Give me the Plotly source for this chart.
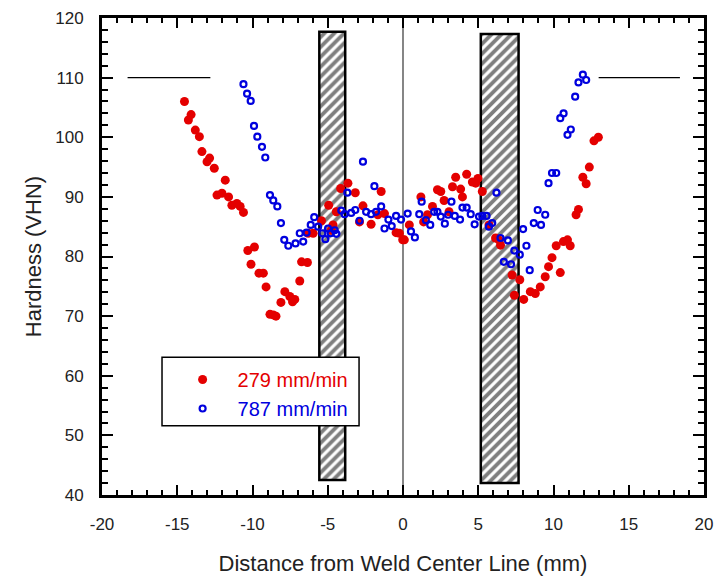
import plotly.graph_objects as go

# Hardness traverse across the friction stir weld, two travel speeds
red_x = [-14.52, -14.26, -14.08, -13.8, -13.53, -13.36, -13.02, -12.85, -12.54, -12.36,
         -12.03, -11.81, -11.59, -11.37, -11.04, -10.82, -10.6, -10.31, -10.1, -9.87,
         -9.57, -9.28, -9.1, -8.84, -8.62, -8.44, -8.11, -7.85, -7.52, -7.34,
         -7.19, -6.86, -6.74, -6.35, -6.3, -5.97, -5.42, -4.94, -4.76, -4.65,
         -4.43, -4.14, -3.66, -3.17, -2.89, -2.66, -2.12, -1.67, -1.45, -1.23,
         -0.46, -0.24, -0.02, 0.09, 0.42, 1.19, 1.37, 1.63, 1.96, 2.29,
         2.51, 2.73, 3.06, 3.29, 3.5, 3.83, 3.95, 4.23, 4.61, 4.83,
         4.98, 5.27, 5.71, 6.15, 6.37, 6.48, 7.25, 7.4, 7.76, 8.02,
         8.46, 8.79, 9.12, 9.45, 9.67, 9.9, 10.18, 10.45, 10.66, 10.93,
         11.11, 11.5, 11.66, 11.95, 12.17, 12.38, 12.69, 12.98]
red_y = [106.0, 102.9, 103.8, 101.2, 100.1, 97.6, 95.9, 96.5, 94.8, 90.3,
         90.6, 92.8, 90.0, 88.6, 88.9, 88.4, 87.4, 81.0, 78.7, 81.6,
         77.2, 77.2, 74.9, 70.3, 70.2, 70.0, 72.3, 74.1, 73.3, 72.4,
         72.8, 75.9, 79.1, 79.0, 83.9, 83.9, 86.0, 88.6, 84.4, 85.3,
         87.5, 91.4, 92.3, 90.7, 85.8, 88.5, 85.4, 87.0, 90.9, 87.2,
         84.0, 83.9, 82.8, 82.8, 85.3, 90.0, 85.8, 87.0, 88.4, 91.2,
         90.9, 89.4, 87.5, 91.7, 93.3, 91.3, 90.0, 93.8, 92.5, 92.3,
         93.1, 90.9, 85.3, 83.1, 82.8, 81.9, 76.9, 73.5, 76.1, 72.8,
         74.1, 73.8, 74.9, 76.6, 78.3, 79.8, 81.8, 77.3, 82.5, 82.8,
         81.8, 87.0, 87.9, 93.3, 92.2, 95.0, 99.4, 100.0]

blue_x = [-10.6, -10.36, -10.12, -9.9, -9.68, -9.37, -9.15, -8.84, -8.62, -8.35,
          -8.11, -7.89, -7.62, -7.14, -6.86, -6.63, -6.41, -6.13, -5.9, -5.64,
          -5.36, -5.16, -4.98, -4.81, -4.54, -4.43, -4.1, -3.88, -3.7, -3.44,
          -3.17, -2.89, -2.66, -2.45, -2.12, -1.9, -1.79, -1.45, -1.23, -0.97,
          -0.75, -0.46, -0.13, 0.31, 0.53, 0.79, 1.08, 1.24, 1.52, 1.81,
          2.07, 2.29, 2.51, 2.78, 3.0, 3.22, 3.44, 3.79, 3.95, 4.23,
          4.5, 4.76, 5.05, 5.27, 5.55, 5.71, 5.93, 6.21, 6.48, 6.7,
          6.97, 7.18, 7.4, 7.76, 7.98, 8.2, 8.42, 8.69, 8.95, 9.17,
          9.45, 9.67, 9.9, 10.18, 10.45, 10.67, 10.93, 11.15, 11.44, 11.66,
          11.95, 12.17]
blue_y = [108.9, 107.3, 106.1, 101.9, 100.1, 98.4, 96.6, 90.3, 89.4, 88.4,
          85.6, 82.8, 81.8, 82.2, 83.9, 82.5, 84.0, 85.3, 86.6, 85.0,
          83.9, 82.9, 84.7, 83.9, 84.4, 83.8, 87.7, 87.1, 90.7, 87.3,
          87.8, 86.0, 95.9, 87.5, 87.1, 91.8, 87.5, 88.4, 84.7, 86.2,
          85.1, 86.8, 86.2, 87.2, 84.2, 83.2, 87.1, 89.2, 86.1, 85.3,
          87.5, 87.5, 86.7, 85.5, 87.0, 89.2, 86.8, 86.2, 88.2, 88.2,
          87.1, 85.4, 86.7, 86.8, 86.8, 85.0, 85.6, 90.7, 83.1, 79.1,
          82.7, 78.7, 81.0, 80.3, 84.6, 81.8, 77.7, 85.6, 87.8, 85.3,
          87.0, 92.3, 94.0, 94.0, 103.2, 104.0, 100.4, 101.3, 106.8, 109.2,
          110.5, 109.6]

series_names = ["279 mm/min", "787 mm/min"]
red = "rgb(228,0,0)"
blue = "rgb(0,0,222)"

# Shoulder-edge zones (x extent, y extent)
zone_x = [(-5.56, -3.84), (5.17, 7.68)]
zone_y = [(42.5, 117.7), (42.0, 117.3)]

# Base-metal hardness reference segments
base_hv = 110
base_left = (-18.3, -12.8)
base_right = (13.0, 18.4)

x_range = [-20, 20]
y_range = [40, 120]
x_ticks = [-20, -15, -10, -5, 0, 5, 10, 15, 20]
x_tick_labels = ["-20", "-15", "-10", "-5", "0", "5", "10", "15", "20"]
y_ticks = [40, 50, 60, 70, 80, 90, 100, 110, 120]
y_tick_labels = [str(v) for v in y_ticks]

fig = go.Figure()

fig.add_trace(go.Bar(
    x=[(a + b) / 2 for a, b in zone_x],
    width=[b - a for a, b in zone_x],
    base=[lo for lo, hi in zone_y],
    y=[hi - lo for lo, hi in zone_y],
    marker=dict(color="white",
                line=dict(color="black", width=2.5),
                pattern=dict(shape="/", fgcolor="black", bgcolor="white",
                             size=7, solidity=0.55)),
    showlegend=False, hoverinfo="skip",
))

fig.add_trace(go.Scatter(x=[0, 0], y=y_range, mode="lines",
                         line=dict(color="#444", width=1.3),
                         showlegend=False, hoverinfo="skip"))
for seg in (base_left, base_right):
    fig.add_trace(go.Scatter(x=list(seg), y=[base_hv, base_hv], mode="lines",
                             line=dict(color="black", width=1.2),
                             showlegend=False, hoverinfo="skip"))

fig.add_trace(go.Scatter(
    x=red_x, y=red_y, mode="markers",
    name=f"<span style='color:{red}'>{series_names[0]}</span>",
    marker=dict(symbol="circle", size=9, color=red),
))
fig.add_trace(go.Scatter(
    x=blue_x, y=blue_y, mode="markers",
    name=f"<span style='color:{blue}'>{series_names[1]}</span>",
    marker=dict(symbol="circle-open", size=6, color=blue, line=dict(width=2.2, color=blue)),
))

font_family = "Arial, Liberation Sans, sans-serif"
axis_common = dict(
    showline=True, linecolor="black", linewidth=3, mirror="ticks",
    ticks="inside", tickcolor="black", tickwidth=2,
    showgrid=False, zeroline=False, tickmode="array", automargin=False,
    tickfont=dict(family=font_family, size=17, color="#222"),
)

fig.update_layout(
    width=715, height=578,
    margin=dict(l=102, r=11, t=18, b=83),
    paper_bgcolor="white", plot_bgcolor="white",
    font=dict(family=font_family, color="#222"),
    xaxis=dict(range=x_range, tickvals=x_ticks, ticktext=x_tick_labels, ticklen=10,
               minor=dict(dtick=1, ticks="inside", ticklen=5, tickwidth=2, tickcolor="black"),
               title=dict(text="Distance from Weld Center Line (mm)",
                          font=dict(size=22, family=font_family, color="#222"), standoff=23),
               ticklabelstandoff=12,
               **axis_common),
    yaxis=dict(range=y_range, tickvals=y_ticks, ticktext=y_tick_labels, ticklen=11,
               minor=dict(dtick=2, ticks="inside", ticklen=6, tickwidth=2, tickcolor="black"),
               title=dict(text="Hardness (VHN)",
                          font=dict(size=22, family=font_family, color="#222"), standoff=8),
               ticklabelstandoff=12,
               **axis_common),
    legend=dict(x=0.109, y=0.283, xanchor="left", yanchor="top",
                bgcolor="rgba(0,0,0,0)", borderwidth=0, itemwidth=60,
                font=dict(family=font_family, size=20)),
    shapes=[dict(type="rect", xref="paper", yref="paper",
                 x0=0.0997, x1=0.427, y0=0.145, y1=0.289,
                 line=dict(color="black", width=1.5), fillcolor="white", layer="above")],
)

fig.write_html("out.html")
